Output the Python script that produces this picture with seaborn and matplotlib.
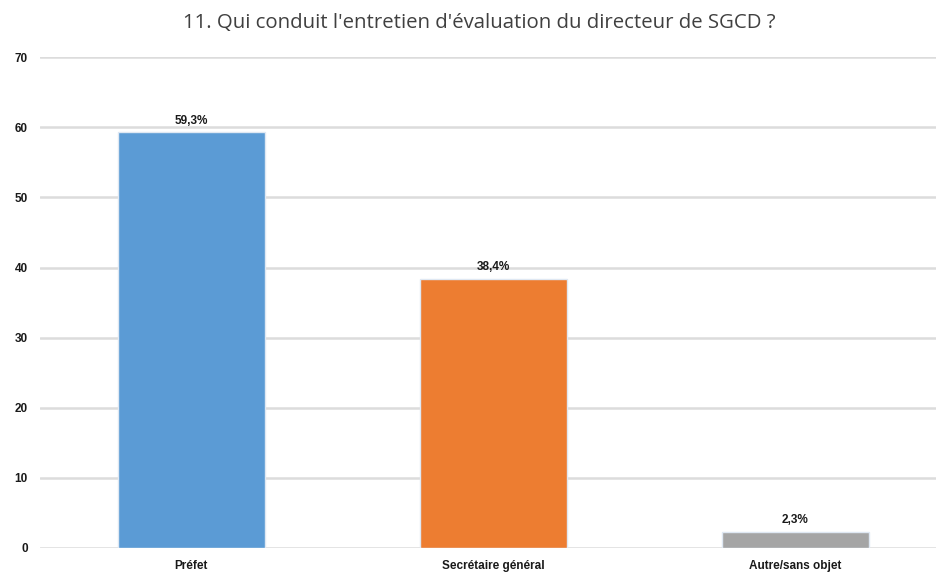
import matplotlib
matplotlib.use("Agg")
import matplotlib.pyplot as plt
import seaborn as sns
import pandas as pd

categories = ["Préfet", "Secrétaire général", "Autre/sans objet"]
values = [59.3, 38.4, 2.3]
labels = ["59,3%", "38,4%", "2,3%"]
colors = ["#5B9BD5", "#ED7D31", "#A5A5A5"]
yticks = [0, 10, 20, 30, 40, 50, 60, 70]

df = pd.DataFrame({"categorie": categories, "valeur": values})

sns.set_style("white")
narrow = ["Liberation Sans Narrow", "Liberation Sans", "DejaVu Sans"]

fig = plt.figure(figsize=(9.37, 5.72), dpi=100)
# l'axe dépasse un peu à droite, comme dans l'original
ax = fig.add_axes([0.043, 0.042, 0.967, 0.858])

sns.barplot(data=df, x="categorie", y="valeur", hue="categorie", palette=colors,
            saturation=1, width=0.485, legend=False, ax=ax,
            edgecolor="#dfe8f3", linewidth=1)

ax.set_ylim(0, 70)
ax.set_xlim(-0.5, 2.5)
ax.set_yticks(yticks)
ax.yaxis.grid(True, color="#dcdcdc", linewidth=1.8)
ax.set_axisbelow(True)
for s in ax.spines.values():
    s.set_visible(False)
ax.set_xlabel("")
ax.set_ylabel("")
ax.tick_params(axis="both", length=0, pad=9)
for t in ax.get_xticklabels() + ax.get_yticklabels():
    t.set_family(narrow)
    t.set_fontweight("bold")
    t.set_fontsize(8.5)
    t.set_color("#1a1a1a")

for i, (v, lab) in enumerate(zip(values, labels)):
    ax.annotate(lab, (i, v), xytext=(0, 4), textcoords="offset points",
                ha="center", va="bottom", family=narrow, fontweight="bold",
                fontsize=8.5, color="#1a1a1a")

fig.suptitle("11. Qui conduit l'entretien d'évaluation du directeur de SGCD ?",
             x=0.512, y=0.978, fontsize=14.7, color="#404040", family="Open Sans")

fig.savefig("out.png", dpi=100)
